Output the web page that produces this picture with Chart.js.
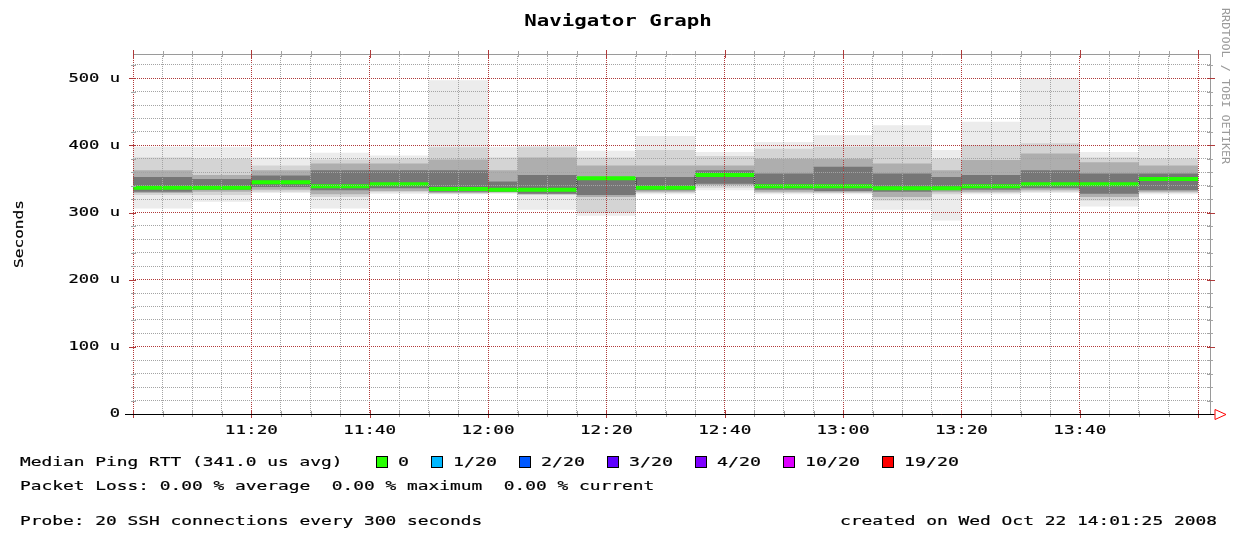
<!DOCTYPE html>
<html>
<head>
<meta charset="utf-8">
<title>Navigator Graph</title>
<script src="https://cdn.jsdelivr.net/npm/chart.js@4.4.0/dist/chart.umd.min.js"></script>
<style>
  html, body { margin: 0; padding: 0; background: #fff; }
  #wrap { position: relative; width: 1234px; height: 534px; }
</style>
</head>
<body>
<div id="wrap"><canvas id="smokeChart"></canvas></div>
<script>
// Smokeping style graph: one value per 5 minute slot, starting 11:00 (minutes from 11:00 on x)
const slotStart = [0, 5, 10, 15, 20, 25, 30, 35, 40, 45, 50, 55, 60, 65, 70, 75, 80, 85,
  90, 95, 100, 105, 110, 115, 120, 125, 130, 135, 140, 145, 150, 155, 160, 165, 170, 175];
const slotEnd = 180;

// median RTT, microseconds
const medianRtt = [337, 337, 337, 337, 345, 345, 339, 339, 342, 342, 335, 335, 334, 334, 334, 351, 351, 337,
  337, 356, 356, 339, 339, 339, 339, 336, 336, 336, 339, 339, 342, 342, 342, 342, 350, 350];

// smoke: outer range (min/max) and three inner ranges, microseconds
const pingMax = [398, 398, 397, 397, 382, 382, 389, 389, 385, 385, 497, 497, 397, 399, 399, 392, 392, 414,
  414, 390, 390, 405, 405, 415, 415, 430, 430, 393, 435, 435, 500, 500, 390, 390, 400, 400];
const pingMin = [306, 306, 316, 316, 329, 329, 306, 306, 328, 328, 327, 327, 328, 304, 304, 295, 295, 327,
  327, 333, 333, 327, 327, 327, 327, 304, 304, 288, 327, 327, 329, 329, 309, 309, 327, 327];
const outerHi = [382, 382, 380, 380, 370, 370, 379, 379, 380, 380, 397, 397, 382, 397, 397, 382, 382, 393,
  393, 384, 384, 395, 395, 398, 398, 398, 398, 380, 400, 400, 403, 403, 382, 382, 380, 380];
const outerLo = [326, 326, 326, 326, 331, 331, 323, 323, 330, 330, 328, 328, 329, 326, 326, 300, 300, 329,
  329, 337, 337, 329, 329, 329, 329, 318, 318, 327, 329, 329, 331, 331, 318, 318, 329, 329];
const midHi = [363, 363, 356, 356, 363, 363, 373, 373, 373, 373, 379, 379, 363, 382, 382, 370, 370, 370,
  370, 370, 370, 380, 380, 380, 380, 373, 373, 363, 378, 378, 388, 388, 375, 375, 370, 370];
const midLo = [329, 329, 331, 331, 334, 334, 327, 327, 332, 332, 329, 329, 330, 327, 327, 323, 323, 331,
  331, 341, 341, 331, 331, 330, 330, 323, 323, 330, 331, 331, 333, 333, 323, 323, 331, 331];
const innerHi = [353, 353, 350, 350, 355, 355, 363, 363, 363, 363, 363, 363, 346, 356, 356, 349, 349, 353,
  353, 363, 363, 358, 358, 368, 368, 358, 358, 353, 356, 356, 363, 363, 358, 358, 358, 358];
const innerLo = [331, 331, 334, 334, 338, 338, 333, 333, 336, 336, 331, 331, 331, 328, 328, 326, 326, 333,
  333, 343, 343, 334, 334, 332, 332, 331, 331, 333, 334, 334, 336, 336, 328, 328, 333, 333];

// axes
const xTickValues = [20, 40, 60, 80, 100, 120, 140, 160];
const xTickLabels = ['11:20', '11:40', '12:00', '12:20', '12:40', '13:00', '13:20', '13:40'];
const yTickValues = [0, 100, 200, 300, 400, 500];
const yTickLabels = ['0', '100 u', '200 u', '300 u', '400 u', '500 u'];

// loss legend
const lossLabels = ['0', '1/20', '2/20', '3/20', '4/20', '10/20', '19/20'];
const lossColors = ['#26ff00', '#00b8ff', '#0059ff', '#5e00ff', '#7e00ff', '#dd00ff', '#ff0000'];

const RED_GRID = '#b03a3a';
const GREY_GRID = '#a4a4a4';
const MONO = '"DejaVu Sans Mono", "Liberation Mono", monospace';

function stepPoints(values) {
  const pts = values.map((v, i) => ({ x: slotStart[i], y: v }));
  pts.push({ x: slotEnd, y: values[values.length - 1] });
  return pts;
}

// flat pieces for the median, broken between slots
function flatPieces(values) {
  const pts = [];
  values.forEach((v, i) => {
    const end = i + 1 < slotStart.length ? slotStart[i + 1] : slotEnd;
    pts.push({ x: slotStart[i], y: v }, { x: end, y: v }, { x: end, y: null });
  });
  return pts;
}

function band(values, color, fillTarget, order) {
  return {
    data: stepPoints(values),
    stepped: true,
    borderWidth: 0,
    borderColor: 'rgba(0,0,0,0)',
    backgroundColor: color,
    pointRadius: 0,
    fill: fillTarget === null ? false : { target: fillTarget },
    order: order
  };
}

function gridValues(step, max) {
  const out = [];
  for (let v = 0; v <= max; v += step) out.push({ value: v });
  return out;
}

// draw monospace text stretched to a given cell width (the source image was scaled up)
function stretchText(ctx, str, x, y, charW, align, heavy) {
  const natural = ctx.measureText(str).width;
  const target = str.length * charW;
  let x0 = x;
  if (align === 'right') x0 = x - target;
  else if (align === 'center') x0 = x - target / 2;
  ctx.save();
  ctx.translate(x0, y);
  ctx.scale(target / natural, 1);
  ctx.textAlign = 'left';
  ctx.fillText(str, 0, 0);
  if (heavy) {
    ctx.lineWidth = 0.2;
    ctx.strokeStyle = ctx.fillStyle;
    ctx.strokeText(str, 0, 0);
  }
  ctx.restore();
}

const rrdDecor = {
  id: 'rrdDecor',
  afterDraw(chart) {
    const ctx = chart.ctx;
    const area = chart.chartArea;
    const xs = chart.scales.x;
    const ys = chart.scales.y;
    ctx.save();

    // frame (top and right)
    ctx.strokeStyle = '#9a9a9a';
    ctx.lineWidth = 1;
    ctx.beginPath();
    ctx.moveTo(area.left, area.top + 0.5);
    ctx.lineTo(area.right + 0.5, area.top + 0.5);
    ctx.lineTo(area.right + 0.5, area.bottom);
    ctx.stroke();

    // tick marks on the frame
    xs.ticks.forEach(t => {
      const px = Math.round(xs.getPixelForValue(t.value)) + 0.5;
      const major = t.value % 20 === 0;
      ctx.strokeStyle = major ? RED_GRID : GREY_GRID;
      const len = major ? 4 : 3;
      ctx.beginPath();
      ctx.moveTo(px, area.top - len); ctx.lineTo(px, area.top + len);
      ctx.moveTo(px, area.bottom - len); ctx.lineTo(px, area.bottom + len);
      ctx.stroke();
    });
    ys.ticks.forEach(t => {
      const py = Math.round(ys.getPixelForValue(t.value)) + 0.5;
      const major = t.value % 100 === 0;
      ctx.strokeStyle = major ? RED_GRID : GREY_GRID;
      ctx.beginPath();
      ctx.moveTo(area.left - (major ? 4 : 2), py); ctx.lineTo(area.left + 3, py);
      ctx.moveTo(area.right - 3, py); ctx.lineTo(area.right + (major ? 5 : 3), py);
      ctx.stroke();
    });

    // x axis line with arrow
    const yb = Math.round(ys.getPixelForValue(0)) + 0.5;
    ctx.strokeStyle = '#000';
    ctx.beginPath();
    ctx.moveTo(area.left - 8, yb);
    ctx.lineTo(area.right + 4, yb);
    ctx.stroke();
    ctx.strokeStyle = '#ff0000';
    ctx.beginPath();
    ctx.moveTo(area.right + 5, yb - 5);
    ctx.lineTo(area.right + 16, yb);
    ctx.lineTo(area.right + 5, yb + 5);
    ctx.closePath();
    ctx.stroke();

    // texts
    ctx.fillStyle = '#000';
    ctx.textBaseline = 'middle';
    ctx.font = 'bold 15px ' + MONO;
    stretchText(ctx, 'Navigator Graph', 618, 22, 12.5, 'center', false);

    ctx.font = '13px ' + MONO;
    yTickValues.forEach((v, i) => {
      stretchText(ctx, yTickLabels[i], 120, ys.getPixelForValue(v), 10.3, 'right', true);
    });
    xTickValues.forEach((v, i) => {
      stretchText(ctx, xTickLabels[i], xs.getPixelForValue(v), 431, 10.6, 'center', true);
    });

    ctx.save();
    ctx.translate(20, 234);
    ctx.rotate(-Math.PI / 2);
    stretchText(ctx, 'Seconds', 0, 0, 9.7, 'center', true);
    ctx.restore();

    ctx.save();
    ctx.fillStyle = '#9a9a9a';
    ctx.font = '10px ' + MONO;
    ctx.translate(1225, 8);
    ctx.rotate(Math.PI / 2);
    stretchText(ctx, 'RRDTOOL / TOBI OETIKER', 0, 0, 7.1, 'left', false);
    ctx.restore();

    ctx.font = '13px ' + MONO;
    stretchText(ctx, 'Median Ping RTT (341.0 us avg)', 20, 463, 10.75, 'left', true);
    let bx = 376;
    lossLabels.forEach((lab, i) => {
      ctx.fillStyle = lossColors[i];
      ctx.fillRect(bx, 456, 12, 12);
      ctx.strokeStyle = '#000';
      ctx.lineWidth = 1;
      ctx.strokeRect(bx + 0.5, 456.5, 11, 11);
      ctx.fillStyle = '#000';
      stretchText(ctx, lab, bx + 22, 463, 11, 'left', true);
      bx += (lab.length + 4) * 11;
    });
    stretchText(ctx, 'Packet Loss: 0.00 % average  0.00 % maximum  0.00 % current', 20, 487, 10.75, 'left', true);
    stretchText(ctx, 'Probe: 20 SSH connections every 300 seconds', 20, 522, 10.75, 'left', true);
    stretchText(ctx, 'created on Wed Oct 22 14:01:25 2008', 1217, 522, 10.77, 'right', true);

    ctx.restore();
  }
};

new Chart(document.getElementById('smokeChart'), {
  type: 'line',
  data: {
    datasets: [
      band(pingMin, '#eeeeee', null, 50),
      band(pingMax, '#ececec', 0, 40),
      band(outerLo, '#d4d4d4', null, 35),
      band(outerHi, '#d4d4d4', 2, 30),
      band(midLo, '#aeaeae', null, 25),
      band(midHi, '#aeaeae', 4, 20),
      band(innerLo, '#767676', null, 15),
      band(innerHi, '#767676', 6, 10),
      {
        data: stepPoints(medianRtt),
        stepped: true,
        borderWidth: 1,
        borderColor: '#333333',
        pointRadius: 0,
        fill: false,
        order: 2
      },
      {
        data: flatPieces(medianRtt),
        borderWidth: 4,
        borderColor: '#22ff00',
        borderCapStyle: 'butt',
        spanGaps: false,
        pointRadius: 0,
        fill: false,
        order: 1
      }
    ]
  },
  options: {
    responsive: true,
    maintainAspectRatio: false,
    animation: false,
    events: [],
    layout: { padding: { left: 133, top: 54, right: 24, bottom: 120 } },
    plugins: {
      legend: { display: false },
      tooltip: { enabled: false },
      title: { display: false }
    },
    scales: {
      x: {
        type: 'linear',
        min: 0,
        max: 182,
        afterBuildTicks: scale => { scale.ticks = gridValues(5, 180); },
        ticks: { display: false },
        grid: {
          z: 1,
          drawTicks: false,
          lineWidth: 1,
          color: c => (c.tick && c.tick.value % 20 === 0) ? RED_GRID : GREY_GRID
        },
        border: { display: false, dash: [1, 1] }
      },
      y: {
        type: 'linear',
        min: 0,
        max: 536,
        afterBuildTicks: scale => { scale.ticks = gridValues(20, 520); },
        ticks: { display: false },
        grid: {
          z: 1,
          drawTicks: false,
          lineWidth: 1,
          color: c => (c.tick && c.tick.value % 100 === 0) ? RED_GRID : GREY_GRID
        },
        border: { display: false, dash: [1, 1] }
      }
    }
  },
  plugins: [rrdDecor]
});
</script>
</body>
</html>
